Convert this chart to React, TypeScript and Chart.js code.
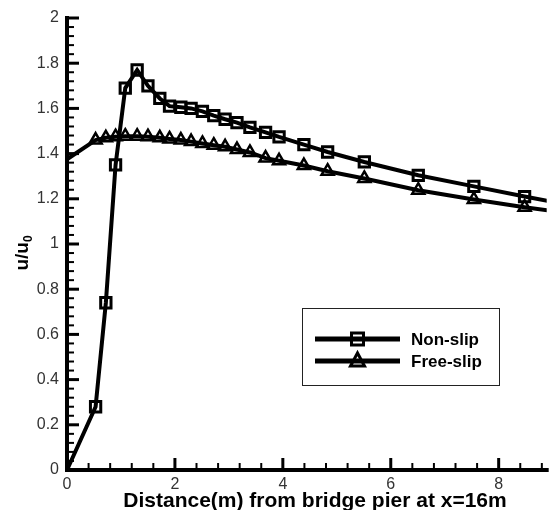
import React, { useEffect, useRef } from 'react';
import { Chart, registerables } from 'chart.js';

Chart.register(...registerables);

const FONT = '"Liberation Sans", Arial, Helvetica, sans-serif';

const distance = [0, 0.53, 0.72, 0.9, 1.08, 1.3, 1.5, 1.72, 1.9, 2.11, 2.3, 2.51, 2.72, 2.93, 3.15, 3.39, 3.68, 3.93, 4.39, 4.83, 5.51, 6.51, 7.54, 8.48, 9.5];
const nonSlip = [0, 0.28, 0.74, 1.35, 1.69, 1.77, 1.7, 1.644, 1.61, 1.605, 1.6, 1.587, 1.568, 1.552, 1.537, 1.516, 1.494, 1.474, 1.44, 1.407, 1.363, 1.304, 1.255, 1.21, 1.165];
const freeSlip = [1.375, 1.46, 1.47, 1.475, 1.477, 1.477, 1.475, 1.47, 1.465, 1.46, 1.453, 1.445, 1.437, 1.43, 1.418, 1.405, 1.38, 1.368, 1.347, 1.322, 1.29, 1.238, 1.197, 1.163, 1.13];

const xTickLabels = [0, 2, 4, 6, 8];
const yTickLabels = [0, 0.2, 0.4, 0.6, 0.8, 1, 1.2, 1.4, 1.6, 1.8, 2];
const seriesNames = ['Non-slip', 'Free-slip'];
const xTitle = 'Distance(m) from bridge pier at x=16m';
const yTitleMain = 'u/u';
const yTitleSub = '0';

const fmt = (v: number) => String(Math.round(v * 10) / 10);

const decorPlugin = {
  id: 'decor',
  afterDatasetsDraw(chart: any) {
    const { ctx, chartArea, scales } = chart;
    const { left, right, top, bottom } = chartArea;
    const x = scales.x;
    const y = scales.y;
    ctx.save();
    ctx.strokeStyle = '#000';
    ctx.fillStyle = '#000';
    ctx.lineCap = 'butt';

    // x ticks (inward)
    for (let i = 0; i <= 25; i++) {
      const v = i * 0.4;
      if (v > x.max + 1e-9) break;
      const px = x.getPixelForValue(v);
      const major = i % 5 === 0;
      ctx.lineWidth = major ? 3 : 2;
      ctx.beginPath();
      ctx.moveTo(px, bottom);
      ctx.lineTo(px, bottom - (major ? 12 : 7));
      ctx.stroke();
    }
    // y ticks (inward)
    for (let i = 0; i <= 50; i++) {
      const v = i * 0.04;
      const py = y.getPixelForValue(v);
      const major = i % 5 === 0;
      ctx.lineWidth = major ? 3 : 2;
      ctx.beginPath();
      ctx.moveTo(left, py);
      ctx.lineTo(left + (major ? 12 : 7), py);
      ctx.stroke();
    }
    // axis lines
    ctx.lineWidth = 4;
    ctx.beginPath();
    ctx.moveTo(left, top - 2);
    ctx.lineTo(left, bottom + 2);
    ctx.stroke();
    ctx.beginPath();
    ctx.moveTo(left - 2, bottom);
    ctx.lineTo(right + 2, bottom);
    ctx.stroke();

    // x title
    ctx.font = `bold 21px ${FONT}`;
    ctx.textAlign = 'center';
    ctx.textBaseline = 'alphabetic';
    ctx.fillText(xTitle, 315, 507);

    // y title with subscript
    ctx.save();
    ctx.translate(23, 253);
    ctx.rotate(-Math.PI / 2);
    ctx.font = `bold 19px ${FONT}`;
    const wMain = ctx.measureText(yTitleMain).width;
    ctx.font = `bold 12px ${FONT}`;
    const wSub = ctx.measureText(yTitleSub).width;
    const start = -(wMain + wSub) / 2;
    ctx.textAlign = 'left';
    ctx.textBaseline = 'middle';
    ctx.font = `bold 19px ${FONT}`;
    ctx.fillText(yTitleMain, start, 0);
    ctx.font = `bold 12px ${FONT}`;
    ctx.fillText(yTitleSub, start + wMain, 6);
    ctx.restore();

    // legend
    ctx.lineWidth = 1;
    ctx.strokeStyle = '#222';
    ctx.strokeRect(302.5, 308.5, 197, 77);
    ctx.strokeStyle = '#000';
    const rows = [339, 361];
    rows.forEach((ly, i) => {
      ctx.lineWidth = 5;
      ctx.beginPath();
      ctx.moveTo(315, ly);
      ctx.lineTo(400, ly);
      ctx.stroke();
      ctx.lineWidth = 3;
      const cx = 357.5;
      if (i === 0) {
        ctx.strokeRect(cx - 6, ly - 6, 12, 12);
      } else {
        ctx.beginPath();
        ctx.moveTo(cx, ly - 8);
        ctx.lineTo(cx + 7, ly + 5);
        ctx.lineTo(cx - 7, ly + 5);
        ctx.closePath();
        ctx.stroke();
      }
      ctx.font = `bold 17px ${FONT}`;
      ctx.textAlign = 'left';
      ctx.textBaseline = 'middle';
      ctx.fillText(seriesNames[i], 411, ly + 1);
    });
    ctx.restore();
  },
};

export default function App() {
  const canvasRef = useRef<HTMLCanvasElement | null>(null);

  useEffect(() => {
    document.body.style.margin = '0';
    const canvas = canvasRef.current;
    if (!canvas) return;
    const hideFirst = (r: number) => (c: any) => (c.dataIndex === 0 ? 0 : r);
    const chart = new Chart(canvas, {
      type: 'line',
      data: {
        datasets: [
          {
            label: seriesNames[0],
            data: distance.map((d, i) => ({ x: d, y: nonSlip[i] })),
            borderColor: '#000',
            borderWidth: 4,
            tension: 0,
            pointStyle: 'rect',
            pointRadius: hideFirst(7.3),
            pointBorderWidth: 3,
            pointBorderColor: '#000',
            pointBackgroundColor: 'rgba(0,0,0,0)',
          },
          {
            label: seriesNames[1],
            data: distance.map((d, i) => ({ x: d, y: freeSlip[i] })),
            borderColor: '#000',
            borderWidth: 4,
            tension: 0,
            pointStyle: 'triangle',
            pointRadius: hideFirst(7),
            pointBorderWidth: 2.5,
            pointBorderColor: '#000',
            pointBackgroundColor: 'rgba(0,0,0,0)',
          },
        ],
      },
      options: {
        animation: false,
        responsive: false,
        maintainAspectRatio: false,
        layout: { padding: { top: 18, right: 0, left: 0, bottom: 0 } },
        plugins: { legend: { display: false }, tooltip: { enabled: false } },
        scales: {
          x: {
            type: 'linear',
            min: 0,
            max: 8.89,
            afterBuildTicks: (s: any) => {
              s.ticks = xTickLabels.map((v) => ({ value: v }));
            },
            afterFit: (s: any) => {
              s.height = 40;
            },
            grid: { display: false, drawTicks: false },
            border: { display: false },
            ticks: {
              font: { family: FONT, size: 16 },
              color: '#333',
              padding: 5,
              maxRotation: 0,
              autoSkip: false,
              callback: (v: any) => fmt(Number(v)),
            },
          },
          y: {
            type: 'linear',
            min: 0,
            max: 2,
            afterBuildTicks: (s: any) => {
              s.ticks = yTickLabels.map((v) => ({ value: v }));
            },
            afterFit: (s: any) => {
              s.width = 67;
            },
            grid: { display: false, drawTicks: false },
            border: { display: false },
            ticks: {
              font: { family: FONT, size: 16 },
              color: '#333',
              padding: 8,
              autoSkip: false,
              callback: (v: any) => fmt(Number(v)),
            },
          },
        },
      },
      plugins: [decorPlugin],
    });
    return () => chart.destroy();
  }, []);

  return (
    <div style={{ width: 557, height: 510 }}>
      <canvas ref={canvasRef} width={557} height={510} style={{ display: 'block' }} />
    </div>
  );
}
